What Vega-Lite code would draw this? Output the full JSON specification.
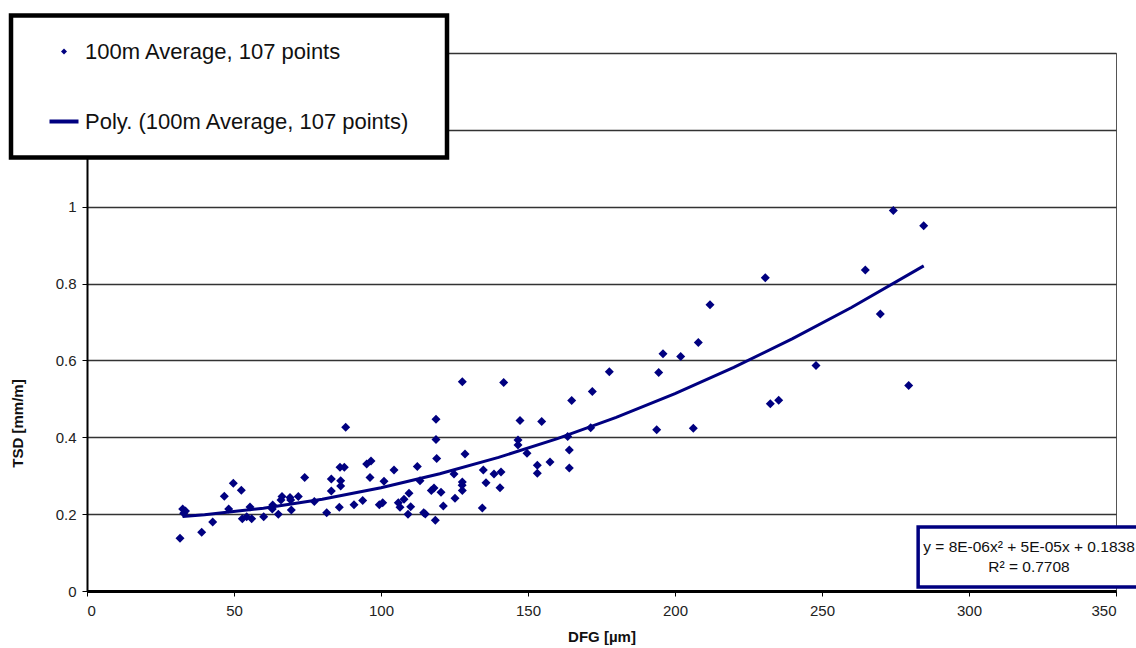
{
  "$schema": "https://vega.github.io/schema/vega-lite/v6.json",
  "width": 1029,
  "height": 538,
  "autosize": "none",
  "padding": {"left": 87, "top": 53, "right": 20, "bottom": 57},
  "background": "white",
  "config": {
    "view": {"stroke": "#555555", "strokeWidth": 1},
    "font": "Liberation Sans"
  },
  "datasets": {
    "points": [
      {"dfg": 32.55, "tsd": 0.2135}, {"dfg": 32.89, "tsd": 0.2023}, {"dfg": 31.63, "tsd": 0.1372}, {"dfg": 39.01, "tsd": 0.1529},
      {"dfg": 42.76, "tsd": 0.1797}, {"dfg": 46.70, "tsd": 0.2466}, {"dfg": 49.76, "tsd": 0.2805}, {"dfg": 52.48, "tsd": 0.2622},
      {"dfg": 48.20, "tsd": 0.2135}, {"dfg": 52.82, "tsd": 0.1883}, {"dfg": 54.32, "tsd": 0.1935}, {"dfg": 56.02, "tsd": 0.1883},
      {"dfg": 55.44, "tsd": 0.2188}, {"dfg": 60.10, "tsd": 0.1935}, {"dfg": 63.16, "tsd": 0.2240}, {"dfg": 63.03, "tsd": 0.2135},
      {"dfg": 65.07, "tsd": 0.1997}, {"dfg": 66.33, "tsd": 0.2456}, {"dfg": 65.99, "tsd": 0.2370}, {"dfg": 69.05, "tsd": 0.2430},
      {"dfg": 69.29, "tsd": 0.2370}, {"dfg": 69.49, "tsd": 0.2109}, {"dfg": 71.87, "tsd": 0.2456}, {"dfg": 74.05, "tsd": 0.2951},
      {"dfg": 77.31, "tsd": 0.2326}, {"dfg": 81.53, "tsd": 0.2039}, {"dfg": 83.10, "tsd": 0.2917}, {"dfg": 83.10, "tsd": 0.2604},
      {"dfg": 85.82, "tsd": 0.2180}, {"dfg": 86.05, "tsd": 0.3221}, {"dfg": 87.52, "tsd": 0.3221}, {"dfg": 86.29, "tsd": 0.2872},
      {"dfg": 86.29, "tsd": 0.2734}, {"dfg": 87.99, "tsd": 0.4263}, {"dfg": 90.82, "tsd": 0.2247}, {"dfg": 93.78, "tsd": 0.2352},
      {"dfg": 95.14, "tsd": 0.3307}, {"dfg": 96.60, "tsd": 0.3385}, {"dfg": 96.26, "tsd": 0.2951}, {"dfg": 99.42, "tsd": 0.2247},
      {"dfg": 100.58, "tsd": 0.2299}, {"dfg": 101.02, "tsd": 0.2857}, {"dfg": 104.42, "tsd": 0.3151}, {"dfg": 105.88, "tsd": 0.2299},
      {"dfg": 106.46, "tsd": 0.2180}, {"dfg": 107.82, "tsd": 0.2388}, {"dfg": 109.52, "tsd": 0.2544}, {"dfg": 110.10, "tsd": 0.2195},
      {"dfg": 109.18, "tsd": 0.1997}, {"dfg": 112.35, "tsd": 0.3237}, {"dfg": 113.27, "tsd": 0.2872}, {"dfg": 114.52, "tsd": 0.2039},
      {"dfg": 115.07, "tsd": 0.2005}, {"dfg": 117.11, "tsd": 0.2612}, {"dfg": 118.03, "tsd": 0.2682}, {"dfg": 118.47, "tsd": 0.1841},
      {"dfg": 118.95, "tsd": 0.3445}, {"dfg": 118.71, "tsd": 0.3940}, {"dfg": 118.71, "tsd": 0.4471}, {"dfg": 120.41, "tsd": 0.2570},
      {"dfg": 121.19, "tsd": 0.2214}, {"dfg": 124.83, "tsd": 0.3047}, {"dfg": 125.17, "tsd": 0.2414}, {"dfg": 127.65, "tsd": 0.2839},
      {"dfg": 127.65, "tsd": 0.2612}, {"dfg": 127.65, "tsd": 0.5443}, {"dfg": 128.57, "tsd": 0.3568}, {"dfg": 134.46, "tsd": 0.2161},
      {"dfg": 134.80, "tsd": 0.3151}, {"dfg": 135.71, "tsd": 0.2820}, {"dfg": 138.44, "tsd": 0.3047}, {"dfg": 140.82, "tsd": 0.3099},
      {"dfg": 140.48, "tsd": 0.2690}, {"dfg": 141.73, "tsd": 0.5424}, {"dfg": 146.60, "tsd": 0.3932}, {"dfg": 146.60, "tsd": 0.3802},
      {"dfg": 147.28, "tsd": 0.4435}, {"dfg": 149.66, "tsd": 0.3586}, {"dfg": 153.16, "tsd": 0.3273}, {"dfg": 153.16, "tsd": 0.3065},
      {"dfg": 154.66, "tsd": 0.4409}, {"dfg": 157.48, "tsd": 0.3359}, {"dfg": 163.50, "tsd": 0.4018}, {"dfg": 164.05, "tsd": 0.3672},
      {"dfg": 164.05, "tsd": 0.3203}, {"dfg": 164.86, "tsd": 0.4956}, {"dfg": 171.33, "tsd": 0.4245}, {"dfg": 171.87, "tsd": 0.5190},
      {"dfg": 177.65, "tsd": 0.5703}, {"dfg": 193.78, "tsd": 0.4193}, {"dfg": 194.46, "tsd": 0.5685}, {"dfg": 195.92, "tsd": 0.6172},
      {"dfg": 201.94, "tsd": 0.6102}, {"dfg": 206.22, "tsd": 0.4237}, {"dfg": 207.93, "tsd": 0.6466}, {"dfg": 211.90, "tsd": 0.7448},
      {"dfg": 230.71, "tsd": 0.8151}, {"dfg": 232.41, "tsd": 0.4870}, {"dfg": 235.27, "tsd": 0.4966}, {"dfg": 247.96, "tsd": 0.5867},
      {"dfg": 264.73, "tsd": 0.8352}, {"dfg": 269.83, "tsd": 0.7206}, {"dfg": 274.25, "tsd": 0.9904}, {"dfg": 279.49, "tsd": 0.5346},
      {"dfg": 284.59, "tsd": 0.9505}, {"dfg": 33.5, "tsd": 0.2080}, {"dfg": 127.6, "tsd": 0.2750}
    ],
    "trend": [
      {"dfg": 32.5, "tsd": 0.1939}, {"dfg": 40, "tsd": 0.1986}, {"dfg": 60, "tsd": 0.2156}, {"dfg": 80, "tsd": 0.2390},
      {"dfg": 100, "tsd": 0.2688}, {"dfg": 120, "tsd": 0.3050}, {"dfg": 140, "tsd": 0.3476}, {"dfg": 160, "tsd": 0.3966},
      {"dfg": 180, "tsd": 0.4520}, {"dfg": 200, "tsd": 0.5138}, {"dfg": 220, "tsd": 0.5820}, {"dfg": 240, "tsd": 0.6566},
      {"dfg": 260, "tsd": 0.7376}, {"dfg": 284.6, "tsd": 0.8460}
    ],
    "box": [{"dfg": 282.7, "dfg2": 362, "tsd": 0.0104, "tsd2": 0.1667}],
    "eqn": [
      {"dfg": 320.4, "tsd": 0.114, "t": "y = 8E-06x² + 5E-05x + 0.1838"},
      {"dfg": 320.4, "tsd": 0.062, "t": "R² = 0.7708"}
    ]
  },
  "encoding": {
    "x": {
      "field": "dfg", "type": "quantitative", "title": "DFG [µm]",
      "scale": {"domain": [0, 350], "nice": false, "zero": false},
      "axis": {
        "values": [0, 50, 100, 150, 200, 250, 300, 350],
        "grid": false, "domainColor": "black", "domainWidth": 3,
        "tickColor": "black", "tickSize": 5, "tickWidth": 1,
        "labelFont": "Liberation Sans", "labelFontSize": 15, "labelColor": "#222222", "labelPadding": 7,
        "titleFont": "Liberation Sans", "titleFontSize": 15, "titleFontWeight": "bold", "titleColor": "#111111", "titlePadding": 11
      }
    },
    "y": {
      "field": "tsd", "type": "quantitative", "title": "TSD [mm/m]",
      "scale": {"domain": [0, 1.4], "nice": false, "zero": false},
      "axis": {
        "values": [0, 0.2, 0.4, 0.6, 0.8, 1, 1.2, 1.4], "format": "~g",
        "grid": true, "gridColor": "#333333", "gridWidth": 1.3,
        "domainColor": "black", "domainWidth": 2,
        "tickColor": "black", "tickSize": 5, "tickWidth": 1,
        "labelFont": "Liberation Sans", "labelFontSize": 15, "labelColor": "#222222", "labelPadding": 6,
        "titleFont": "Liberation Sans", "titleFontSize": 15, "titleFontWeight": "bold", "titleColor": "#111111",
        "titleX": -62, "titleY": 370
      }
    }
  },
  "layer": [
    {
      "data": {"name": "points"},
      "mark": {"type": "point", "filled": true, "color": "#000080", "size": 81, "opacity": 1},
      "encoding": {
        "shape": {
          "datum": "100m Average, 107 points", "type": "nominal",
          "scale": {"domain": ["100m Average, 107 points", "Poly. (100m Average, 107 points)"], "range": ["diamond", "stroke"]},
          "legend": {
            "title": "\u00a0", "titleOrient": "right", "titlePadding": 13, "titleFontSize": 10,
            "orient": "none", "legendX": -76, "legendY": -37.5, "direction": "vertical",
            "padding": 25, "rowPadding": 48, "symbolSize": 841, "symbolOffset": 17, "labelOffset": 10,
            "labelFont": "Liberation Sans", "labelFontSize": 22, "labelColor": "#111111", "labelLimit": 700,
            "fillColor": "white", "strokeColor": "black",
            "symbolStrokeColor": "#000080", "symbolFillColor": "#000080",
            "encoding": {
              "legend": {"strokeWidth": {"value": 4.5}},
              "symbols": {
                "size": {"value": {"expr": "datum.value === '100m Average, 107 points' ? 36 : 841"}},
                "strokeWidth": {"value": {"expr": "datum.value === '100m Average, 107 points' ? 0 : 4"}},
                "stroke": {"value": "#000080"},
                "strokeOpacity": {"value": 1}
              }
            }
          }
        }
      }
    },
    {
      "data": {"name": "trend"},
      "mark": {"type": "line", "color": "#000080", "strokeWidth": 3}
    },
    {
      "data": {"name": "box"},
      "mark": {"type": "rect", "fill": "white", "stroke": "#000080", "strokeWidth": 3.5},
      "encoding": {"x2": {"field": "dfg2"}, "y2": {"field": "tsd2"}}
    },
    {
      "data": {"name": "eqn"},
      "mark": {"type": "text", "font": "Liberation Sans", "fontSize": 15.5, "color": "#111111", "align": "center", "baseline": "middle"},
      "encoding": {"text": {"field": "t"}}
    }
  ]
}
